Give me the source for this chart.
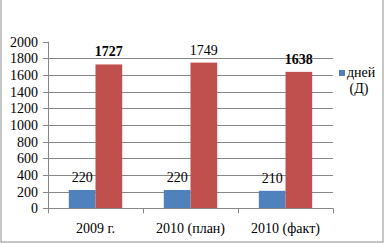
<!DOCTYPE html>
<html>
<head>
<meta charset="utf-8">
<script src="https://cdn.jsdelivr.net/npm/d3@7"></script>
<style>
  body { margin: 0; background: #fff; }
  svg text { font-family: "Liberation Serif", "Times New Roman", serif; font-size: 14px; fill: #000; }
</style>
</head>
<body>
<div id="chart"></div>
<script>
const categories = ["2009 г.", "2010 (план)", "2010 (факт)"];
const daysValues = [220, 220, 210];
const otherValues = [1727, 1749, 1638];
const otherBold = [true, false, true];
const yTicks = [0, 200, 400, 600, 800, 1000, 1200, 1400, 1600, 1800, 2000];
const legendLines = ["дней", "(Д)"];

const width = 385,
  height = 244;
const margin = { left: 48, right: 52, top: 41.7, bottom: 35.7 };

const svg = d3
  .select("#chart")
  .append("svg")
  .attr("width", width)
  .attr("height", height);

// outer frame (top edge is cut off in the original)
svg
  .append("rect")
  .attr("x", 1)
  .attr("y", -5)
  .attr("width", 382)
  .attr("height", 247)
  .attr("fill", "none")
  .attr("stroke", "#8c8c8c");

const x = d3
  .scaleBand()
  .domain(categories)
  .range([margin.left, width - margin.right]);

const y = d3
  .scaleLinear()
  .domain([0, 2000])
  .range([height - margin.bottom, margin.top]);

const barW = 26.7;

// gridlines and y ticks
svg
  .selectAll(".grid")
  .data(yTicks.filter((t) => t > 0 && t < 2000))
  .enter()
  .append("line")
  .attr("x1", margin.left - 5)
  .attr("x2", width - margin.right)
  .attr("y1", (d) => Math.round(y(d)) + 0.5)
  .attr("y2", (d) => Math.round(y(d)) + 0.5)
  .attr("stroke", "#868686");

svg
  .selectAll(".ytick")
  .data([0, 2000])
  .enter()
  .append("line")
  .attr("x1", margin.left - 5)
  .attr("x2", margin.left)
  .attr("y1", (d) => Math.round(y(d)) + 0.5)
  .attr("y2", (d) => Math.round(y(d)) + 0.5)
  .attr("stroke", "#868686");

svg
  .selectAll(".ylabel")
  .data(yTicks)
  .enter()
  .append("text")
  .attr("x", 38)
  .attr("y", (d) => y(d) + 5)
  .attr("text-anchor", "end")
  .text((d) => d);

// bars
const g = svg.append("g");
categories.forEach(function (c, i) {
  const cx = x(c) + x.bandwidth() / 2;
  g.append("rect")
    .attr("x", cx - barW)
    .attr("y", y(daysValues[i]))
    .attr("width", barW)
    .attr("height", y(0) - y(daysValues[i]))
    .attr("fill", "#4F81BD");
  g.append("rect")
    .attr("x", cx)
    .attr("y", y(otherValues[i]))
    .attr("width", barW)
    .attr("height", y(0) - y(otherValues[i]))
    .attr("fill", "#C0504D");
  g.append("text")
    .attr("x", cx - barW / 2)
    .attr("y", y(daysValues[i]) - 8)
    .attr("text-anchor", "middle")
    .text(daysValues[i]);
  g.append("text")
    .attr("x", cx + barW / 2)
    .attr("y", y(otherValues[i]) - 8)
    .attr("text-anchor", "middle")
    .style("font-weight", otherBold[i] ? "bold" : "normal")
    .text(otherValues[i]);
});

// axes lines
svg
  .append("line")
  .attr("x1", margin.left + 0.5)
  .attr("x2", margin.left + 0.5)
  .attr("y1", y(2000))
  .attr("y2", y(0))
  .attr("stroke", "#868686");

svg
  .append("line")
  .attr("x1", margin.left)
  .attr("x2", width - margin.right)
  .attr("y1", Math.round(y(0)) + 0.5)
  .attr("y2", Math.round(y(0)) + 0.5)
  .attr("stroke", "#868686");

svg
  .selectAll(".xtick")
  .data(categories)
  .enter()
  .append("line")
  .attr("x1", (d) => Math.round(x(d)) + 0.5)
  .attr("x2", (d) => Math.round(x(d)) + 0.5)
  .attr("y1", y(0))
  .attr("y2", y(0) + 5)
  .attr("stroke", "#868686");

svg
  .append("line")
  .attr("x1", width - margin.right + 0.5)
  .attr("x2", width - margin.right + 0.5)
  .attr("y1", y(0))
  .attr("y2", y(0) + 5)
  .attr("stroke", "#868686");

svg
  .selectAll(".xlabel")
  .data(categories)
  .enter()
  .append("text")
  .attr("x", (d) => x(d) + x.bandwidth() / 2)
  .attr("y", 233)
  .attr("text-anchor", "middle")
  .text((d) => d);

// legend
svg
  .append("rect")
  .attr("x", 339)
  .attr("y", 70)
  .attr("width", 6)
  .attr("height", 6)
  .attr("fill", "#4F81BD");

svg
  .append("text")
  .attr("x", 347)
  .attr("y", 77)
  .text(legendLines[0]);

svg
  .append("text")
  .attr("x", 359)
  .attr("y", 93)
  .attr("text-anchor", "middle")
  .text(legendLines[1]);
</script>
</body>
</html>
